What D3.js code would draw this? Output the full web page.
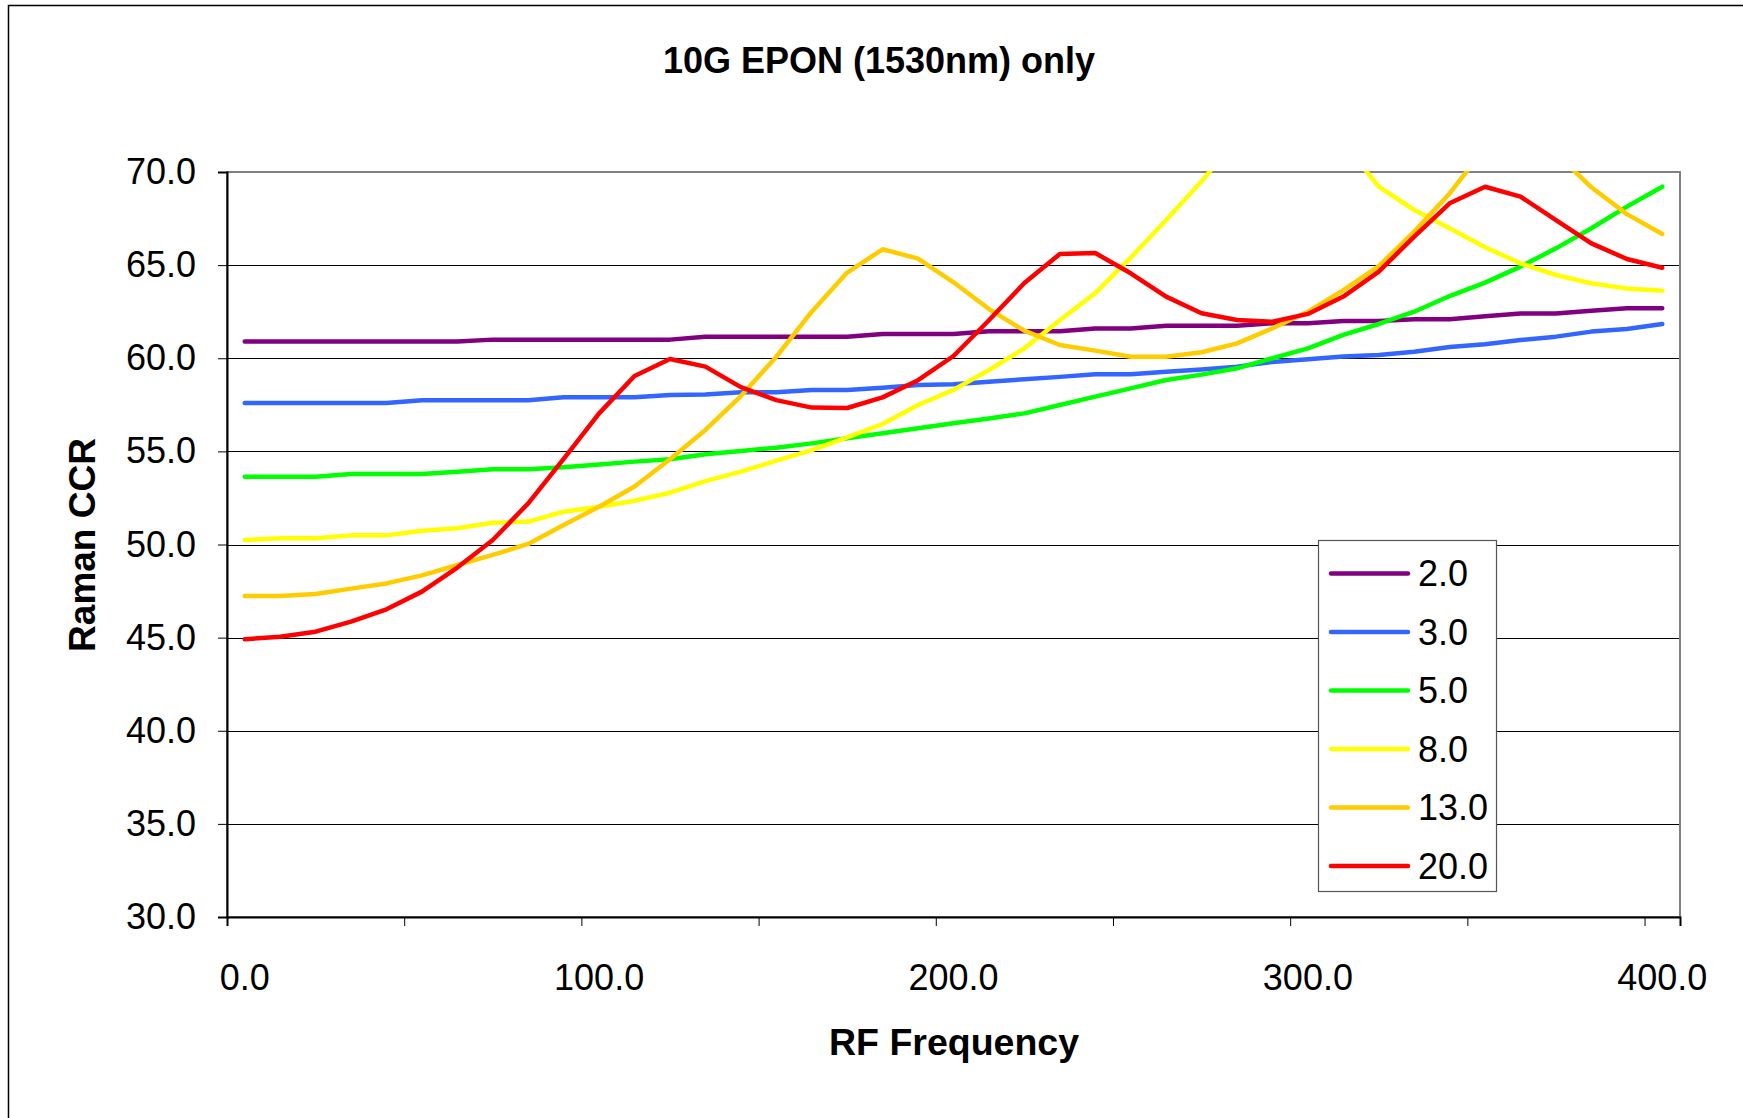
<!DOCTYPE html>
<html>
<head>
<meta charset="utf-8">
<script src="https://cdn.jsdelivr.net/npm/d3@7"></script>
<style>
  html, body { margin: 0; padding: 0; background: #fff; }
  svg { display: block; font-family: "Liberation Sans", Arial, sans-serif; }
</style>
</head>
<body>
<svg id="chart" width="1743" height="1118"></svg>
<script>
// ---------------- data ----------------
const frequencies = [0,10,20,30,40,50,60,70,80,90,100,110,120,130,140,150,160,170,180,190,200,
                     210,220,230,240,250,260,270,280,290,300,310,320,330,340,350,360,370,380,390,400];
const xTickLabels = ["0.0","100.0","200.0","300.0","400.0"];
const yTickValues = [30,35,40,45,50,55,60,65,70];
const seriesNames = ["2.0","3.0","5.0","8.0","13.0","20.0"];
const seriesColors = ["#800080","#3366FF","#00FF00","#FFFF00","#FFCC00","#FF0000"];

const s2 = [60.9,60.9,60.9,60.9,60.9,60.9,60.9,61.0,61.0,61.0,61.0,61.0,61.0,61.15,61.15,61.15,61.15,61.15,
            61.3,61.3,61.3,61.45,61.45,61.45,61.6,61.6,61.75,61.75,61.75,61.88,61.88,62.0,62.0,62.1,62.1,
            62.25,62.4,62.4,62.55,62.68,62.68];
const s3 = [57.6,57.6,57.6,57.6,57.6,57.75,57.75,57.75,57.75,57.9,57.9,57.9,58.03,58.05,58.17,58.17,58.3,58.3,
            58.42,58.56,58.6,58.74,58.87,59.0,59.14,59.14,59.28,59.4,59.55,59.8,59.94,60.09,60.17,60.35,60.6,
            60.75,60.98,61.16,61.43,61.57,61.84];
const s5 = [53.64,53.64,53.64,53.79,53.79,53.79,53.9,54.04,54.04,54.15,54.3,54.45,54.58,54.85,55.02,55.2,55.43,
            55.7,55.97,56.24,56.51,56.77,57.04,57.49,57.94,58.38,58.83,59.12,59.46,60.0,60.53,61.25,61.84,62.5,
            63.34,64.06,64.92,65.9,66.98,68.14,69.21];
const s8 = [50.24,50.33,50.33,50.49,50.49,50.74,50.87,51.17,51.23,51.76,52.03,52.35,52.78,53.4,53.91,54.5,55.07,
            55.75,56.47,57.49,58.3,59.37,60.53,62.04,63.5,65.4,67.42,69.5,71.8,73.3,73.2,71.6,69.21,67.96,66.98,
            65.96,65.1,64.47,64.02,63.75,63.63];
const s13 = [47.23,47.23,47.34,47.63,47.91,48.34,48.9,49.44,50.03,51.05,52.03,53.11,54.58,56.15,57.97,60.08,62.5,
             64.6,65.85,65.35,64.08,62.64,61.48,60.71,60.41,60.08,60.08,60.32,60.8,61.61,62.5,63.66,64.95,66.8,
             68.85,71.3,72.0,71.0,69.18,67.74,66.67];
const s20 = [44.91,45.05,45.32,45.86,46.52,47.47,48.76,50.24,52.21,54.6,57.04,59.05,59.96,59.55,58.45,57.75,57.35,
             57.33,57.9,58.82,60.12,62.04,64.04,65.6,65.65,64.56,63.31,62.42,62.05,61.96,62.38,63.31,64.65,66.53,
             68.32,69.21,68.68,67.42,66.17,65.33,64.86];
const seriesValues = [s2, s3, s5, s8, s13, s20];

// ---------------- layout ----------------
const plot = { left: 227, top: 172, right: 1680, bottom: 917 };
const svg = d3.select("#chart");

// outer chart border (partially outside the picture)
svg.append("rect").attr("x", 8.5).attr("y", 5.5).attr("width", 1800).attr("height", 1200)
   .attr("fill", "#fff").attr("stroke", "#000").attr("stroke-width", 1.5);

const x = d3.scaleBand().domain(frequencies).range([plot.left, plot.right]).paddingInner(0).paddingOuter(0);
const xc = f => x(f) + x.bandwidth() / 2;
const xEdge = d3.scaleLinear().domain([0, frequencies.length]).range([plot.left, plot.right]);
const y = d3.scaleLinear().domain([30, 70]).range([plot.bottom, plot.top]);

// gridlines
svg.append("g").selectAll("line").data(yTickValues.filter(v => v > 30 && v < 70)).join("line")
   .attr("x1", plot.left).attr("x2", plot.right)
   .attr("y1", d => Math.round(y(d)) + 0.5).attr("y2", d => Math.round(y(d)) + 0.5)
   .attr("stroke", "#000").attr("stroke-width", 1);

// plot border
svg.append("rect").attr("x", plot.left).attr("y", plot.top)
   .attr("width", plot.right - plot.left).attr("height", plot.bottom - plot.top)
   .attr("fill", "none").attr("stroke", "#808080").attr("stroke-width", 2);

// title
svg.append("text").attr("x", 879).attr("y", 73).attr("text-anchor", "middle")
   .attr("font-size", 36).attr("font-weight", "bold").text("10G EPON (1530nm) only");

// y axis
const yAxis = svg.append("g").attr("transform", `translate(${plot.left},0)`)
   .call(d3.axisLeft(y).tickValues(yTickValues).tickSize(9).tickPadding(22).tickFormat(d => d.toFixed(1)));
yAxis.select(".domain").attr("stroke", "#000").attr("stroke-width", 2);
yAxis.selectAll(".tick line").attr("stroke", "#000").attr("stroke-width", 1);
yAxis.selectAll(".tick text").attr("font-size", 36).attr("fill", "#000")
   .attr("font-family", "Liberation Sans, Arial, sans-serif");

// x axis: tick marks at category boundaries every 5 categories
const xTickAxis = svg.append("g").attr("transform", `translate(0,${plot.bottom})`)
   .call(d3.axisBottom(xEdge).tickValues([0,5,10,15,20,25,30,35,40]).tickSize(9).tickFormat(""));
xTickAxis.select(".domain").attr("stroke", "#000").attr("stroke-width", 2);
xTickAxis.selectAll(".tick line").attr("stroke", "#000").attr("stroke-width", 1);

// x labels at categories
const labelFreqs = xTickLabels.map(s => +s);
const xLabelAxis = svg.append("g").attr("transform", `translate(0,${plot.bottom})`)
   .call(d3.axisBottom(x).tickValues(labelFreqs).tickSize(0).tickPadding(47)
         .tickFormat((d, i) => xTickLabels[i]));
xLabelAxis.select(".domain").remove();
xLabelAxis.selectAll(".tick text").attr("font-size", 36).attr("fill", "#000")
   .attr("font-family", "Liberation Sans, Arial, sans-serif");

// axis titles
svg.append("text").attr("x", 954).attr("y", 1055).attr("text-anchor", "middle")
   .attr("font-size", 37.5).attr("font-weight", "bold").text("RF Frequency");
svg.append("text").attr("transform", "translate(95,545) rotate(-90)").attr("text-anchor", "middle")
   .attr("font-size", 37).attr("font-weight", "bold").text("Raman CCR");

// clip
svg.append("clipPath").attr("id", "plotclip").append("rect")
   .attr("x", plot.left).attr("y", plot.top - 1)
   .attr("width", plot.right - plot.left).attr("height", plot.bottom - plot.top + 1);

const line = d3.line().x((d, i) => xc(frequencies[i])).y(d => y(d)).curve(d3.curveLinear);
const lines = svg.append("g").attr("clip-path", "url(#plotclip)");
seriesValues.forEach((vals, si) => {
  lines.append("path").datum(vals).attr("d", line)
     .attr("fill", "none").attr("stroke", seriesColors[si]).attr("stroke-width", 4.5)
     .attr("stroke-linejoin", "round").attr("stroke-linecap", "round");
});

// legend
const lg = { x: 1318.5, y: 540.5, w: 178, h: 351 };
svg.append("rect").attr("x", lg.x).attr("y", lg.y).attr("width", lg.w).attr("height", lg.h)
   .attr("fill", "#fff").attr("stroke", "#555").attr("stroke-width", 1.2);
const legendItems = svg.append("g").selectAll("g").data(seriesNames).join("g")
   .attr("transform", (d, i) => `translate(0,${573.5 + i * 58.5})`);
legendItems.append("line").attr("x1", 1331).attr("x2", 1408).attr("y1", 0).attr("y2", 0)
   .attr("stroke", (d, i) => seriesColors[i]).attr("stroke-width", 4.5).attr("stroke-linecap", "round");
legendItems.append("text").attr("x", 1418).attr("y", 0).attr("dy", "0.35em")
   .attr("font-size", 36).text(d => d);
</script>
</body>
</html>
